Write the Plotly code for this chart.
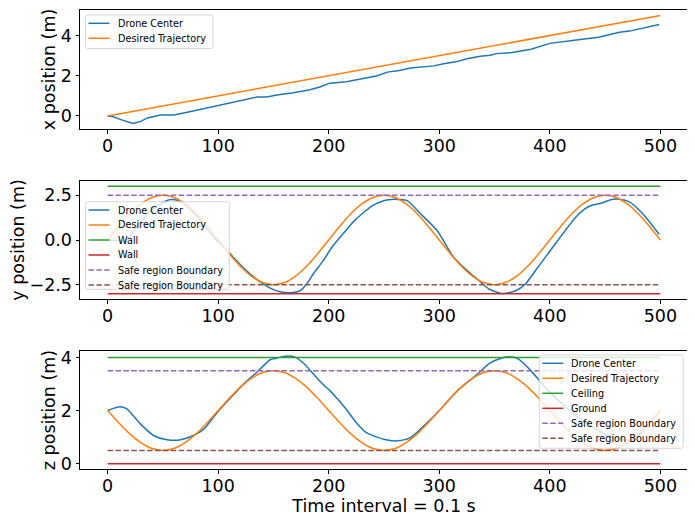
import plotly.graph_objects as go

# ---------------- data ----------------
t_desired = list(range(0, 501, 10))

# x position
t_drone_x = [0, 5, 14, 23, 30, 36, 48, 60, 72, 90, 102, 114, 126, 135, 144, 153, 168, 183, 192, 201,
             216, 232, 244, 253, 264, 274, 295, 304, 315, 325, 337, 346, 352, 366, 383, 400, 412, 424,
             444, 454, 463, 472, 499]
drone_x = [0, -0.04, -0.22, -0.37, -0.27, -0.1, 0.05, 0.05, 0.18, 0.4, 0.56, 0.72, 0.84, 0.94, 0.94,
           1.04, 1.15, 1.3, 1.44, 1.63, 1.7, 1.88, 2.0, 2.18, 2.26, 2.38, 2.49, 2.6, 2.69, 2.84, 2.97,
           3.02, 3.1, 3.15, 3.32, 3.61, 3.68, 3.78, 3.91, 4.06, 4.16, 4.22, 4.55]
t_desired_x = [0, 500]
desired_x = [0.0, 5.0]

# y position
t_drone_y = [0, 8, 15, 24, 36, 48, 57, 66, 78, 96, 108, 124, 135, 147, 156, 165, 174, 180, 186, 195,
             204, 213, 222, 231, 240, 249, 256, 263, 271, 283, 298, 313, 327, 336, 345, 357, 369, 378,
             387, 396, 405, 414, 423, 432, 438, 447, 456, 463, 472, 484, 499]
drone_y = [0, -0.03, -0.05, 0.53, 1.47, 2.03, 2.26, 2.15, 1.5, 0.16, -0.59, -1.62, -2.2, -2.69, -2.89,
           -2.95, -2.84, -2.46, -1.9, -1.15, -0.31, 0.35, 1.0, 1.51, 1.94, 2.18, 2.27, 2.27, 2.2, 1.47,
           0.53, -0.96, -1.81, -2.28, -2.74, -2.99, -2.84, -2.46, -1.71, -0.96, -0.21, 0.53, 1.25, 1.75,
           1.94, 2.07, 2.26, 2.28, 2.13, 1.47, 0.31]
desired_y = [0, 0.77, 1.47, 2.02, 2.38, 2.5, 2.38, 2.02, 1.47, 0.77,
             0, -0.77, -1.47, -2.02, -2.38, -2.5, -2.38, -2.02, -1.47, -0.77,
             0, 0.77, 1.47, 2.02, 2.38, 2.5, 2.38, 2.02, 1.47, 0.77,
             0, -0.77, -1.47, -2.02, -2.38, -2.5, -2.38, -2.02, -1.47, -0.77,
             0, 0.77, 1.47, 2.02, 2.38, 2.5, 2.38, 2.02, 1.47, 0.77, 0]
wall_hi, wall_lo = 3.0, -3.0
safe_y_hi, safe_y_lo = 2.5, -2.5

# z position
t_drone_z = [0, 11, 17, 30, 42, 54, 66, 78, 87, 99, 114, 124, 136, 147, 153, 160, 169, 177, 186, 195,
             201, 207, 216, 225, 234, 243, 253, 262, 274, 289, 301, 316, 334, 346, 356, 364, 371, 382,
             399, 417, 435, 453, 468, 477, 489, 500]
drone_z = [2.0, 2.14, 2.07, 1.48, 1.05, 0.9, 0.9, 1.07, 1.3, 1.92, 2.6, 3.04, 3.48, 3.91, 3.97, 4.04,
           4.02, 3.79, 3.38, 2.98, 2.75, 2.48, 2.04, 1.54, 1.17, 1.01, 0.89, 0.86, 0.98, 1.54, 2.04, 2.73,
           3.35, 3.79, 3.97, 4.02, 3.95, 3.54, 2.73, 2.04, 1.48, 1.05, 0.89, 0.92, 1.48, 2.0]
desired_z = [2, 1.54, 1.12, 0.79, 0.57, 0.5, 0.57, 0.79, 1.12, 1.54,
             2, 2.46, 2.88, 3.21, 3.43, 3.5, 3.43, 3.21, 2.88, 2.46,
             2, 1.54, 1.12, 0.79, 0.57, 0.5, 0.57, 0.79, 1.12, 1.54,
             2, 2.46, 2.88, 3.21, 3.43, 3.5, 3.43, 3.21, 2.88, 2.46,
             2, 1.54, 1.12, 0.79, 0.57, 0.5, 0.57, 0.79, 1.12, 1.54, 2]
ceiling, ground = 4.0, 0.0
safe_z_hi, safe_z_lo = 3.5, 0.5

t_span = [0, 500]
x_ticks = [0, 100, 200, 300, 400, 500]

# ---------------- style ----------------
BLUE, ORANGE, GREEN, RED, PURPLE, BROWN = "#1f77b4", "#ff7f0e", "#2ca02c", "#d62728", "#9467bd", "#8c564b"
FONT = "DejaVu Sans"
LW = 1.5
DASH = "5.5px,2.4px"

# the page body has an 8px margin: lay the figure out in window pixels minus that offset
OFF = 8
W, H = 695 - OFF, 523 - OFF
ML, MR, MT, MB = 80 - OFF, 7, 10 - OFF, 54
PW = W - ML - MR
PH = H - MT - MB

fig = go.Figure()
legend_items = {1: [], 2: [], 3: []}


def line(x, y, name, color, panel, dash="solid", shape="linear"):
    xa = "x" if panel == 1 else "x%d" % panel
    ya = "y" if panel == 1 else "y%d" % panel
    fig.add_trace(go.Scatter(x=x, y=y, name=name, mode="lines", showlegend=False,
                             line=dict(color=color, width=LW, dash=dash, shape=shape, smoothing=0.7),
                             xaxis=xa, yaxis=ya))
    legend_items[panel].append((name, color, dash))


# top
line(t_drone_x, drone_x, "Drone Center", BLUE, 1)
line(t_desired_x, desired_x, "Desired Trajectory", ORANGE, 1)
# middle
line(t_drone_y, drone_y, "Drone Center", BLUE, 2, shape="spline")
line(t_desired, desired_y, "Desired Trajectory", ORANGE, 2, shape="spline")
line(t_span, [wall_hi, wall_hi], "Wall", GREEN, 2)
line(t_span, [wall_lo, wall_lo], "Wall", RED, 2)
line(t_span, [safe_y_hi, safe_y_hi], "Safe region Boundary", PURPLE, 2, dash=DASH)
line(t_span, [safe_y_lo, safe_y_lo], "Safe region Boundary", BROWN, 2, dash=DASH)
# bottom
line(t_drone_z, drone_z, "Drone Center", BLUE, 3, shape="spline")
line(t_desired, desired_z, "Desired Trajectory", ORANGE, 3, shape="spline")
line(t_span, [ceiling, ceiling], "Ceiling", GREEN, 3)
line(t_span, [ground, ground], "Ground", RED, 3)
line(t_span, [safe_z_hi, safe_z_hi], "Safe region Boundary", PURPLE, 3, dash=DASH)
line(t_span, [safe_z_lo, safe_z_lo], "Safe region Boundary", BROWN, 3, dash=DASH)


def px_x(px):  # window pixel -> paper
    return (px - OFF - ML) / PW


def px_y(py):
    return (H - MB - (py - OFF)) / PH


# matplotlib-like legend boxes (window pixels: left, top, right, bottom)
legend_boxes = {1: (85.5, 15, 213, 48.5), 2: (85.5, 201.7, 229.3, 289.3), 3: (539.3, 355, 683.3, 448.3)}
shapes, annotations = [], []
for panel, (l, t, r, b) in legend_boxes.items():
    rad = 2.5
    path = ("M {x0},{y0} L {x1},{y0} Q {r},{y0} {r},{y1} L {r},{y2} Q {r},{y3} {x1},{y3} "
            "L {x0},{y3} Q {l},{y3} {l},{y2} L {l},{y1} Q {l},{y0} {x0},{y0} Z").format(
        x0=px_x(l + rad), x1=px_x(r - rad), l=px_x(l), r=px_x(r),
        y0=px_y(t), y1=px_y(t + rad), y2=px_y(b - rad), y3=px_y(b))
    shapes.append(dict(type="path", xref="paper", yref="paper", path=path,
                       fillcolor="rgba(255,255,255,0.8)", line=dict(color="rgba(204,204,204,0.8)", width=1)))
    for i, (name, color, dash) in enumerate(legend_items[panel]):
        yc = t + 8.3 + 15 * i
        shapes.append(dict(type="line", xref="paper", yref="paper",
                           x0=px_x(l + 3), x1=px_x(l + 24), y0=px_y(yc), y1=px_y(yc),
                           line=dict(color=color, width=LW, dash=dash)))
        annotations.append(dict(text=name, xref="paper", yref="paper", x=px_x(l + 31), y=px_y(yc),
                                xanchor="left", yanchor="middle", showarrow=False, borderpad=0,
                                font=dict(family=FONT, size=9.7, color="black")))

axis_common = dict(showgrid=False, zeroline=False, showline=True, mirror=True, linecolor="black",
                   linewidth=1, ticks="outside", ticklen=3.5, tickwidth=0.8, tickcolor="black",
                   automargin=False, tickfont=dict(family=FONT, size=17.5, color="black"))


def dom(top_px, bot_px):
    return [px_y(bot_px), px_y(top_px)]


xcommon = dict(axis_common, range=[-25, 525], tickvals=x_ticks, domain=[0, 1], ticklabelstandoff=-3)
ytitle = dict(font=dict(family=FONT, size=17.5, color="black"), standoff=0)

fig.update_layout(
    width=W, height=H, margin=dict(l=ML, r=MR, t=MT, b=MB),
    paper_bgcolor="white", plot_bgcolor="white",
    font=dict(family=FONT, color="black"),
    showlegend=False,
    xaxis=dict(xcommon, anchor="y"),
    xaxis2=dict(xcommon, anchor="y2"),
    xaxis3=dict(xcommon, anchor="y3",
                title=dict(text="Time interval = 0.1 s", font=dict(family=FONT, size=17.5, color="black"),
                           standoff=5)),
    yaxis=dict(axis_common, domain=dom(10, 129), anchor="x", range=[-0.65, 5.27], tickvals=[0, 2, 4],
               title=dict(ytitle, text="x position (m)")),
    yaxis2=dict(axis_common, domain=dom(181, 299), anchor="x2", range=[-3.3, 3.3],
                tickvals=[-2.5, 0, 2.5], tickformat=".1f",
                title=dict(ytitle, text="y position (m)")),
    yaxis3=dict(axis_common, domain=dom(351, 469), anchor="x3", range=[-0.2, 4.24], tickvals=[0, 2, 4],
                title=dict(ytitle, text="z position (m)")),
    shapes=shapes,
    annotations=annotations,
)

fig.write_html("out.html")
